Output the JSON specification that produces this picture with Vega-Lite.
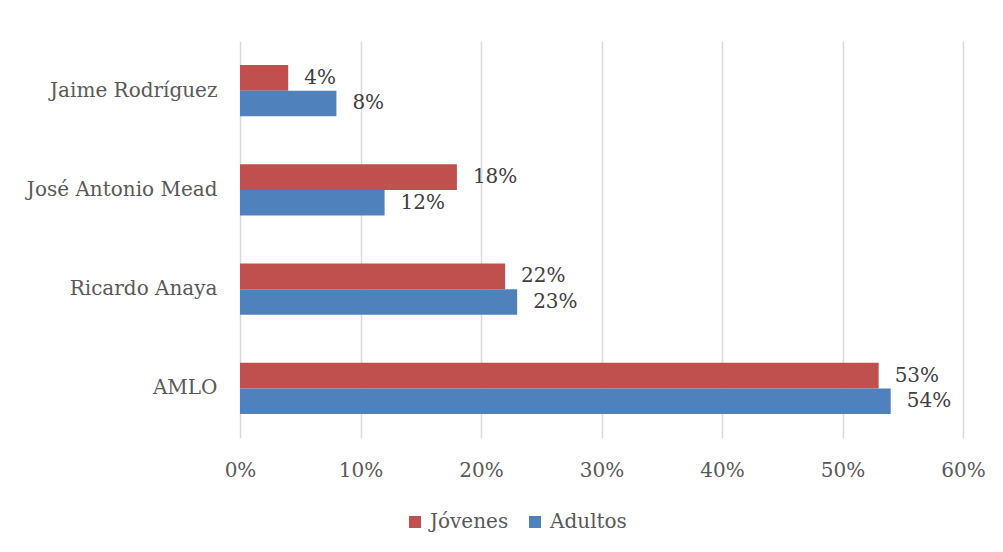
{
  "$schema": "https://vega.github.io/schema/vega-lite/v6.json",
  "width": 723,
  "height": 397,
  "autosize": {"type": "none"},
  "padding": {"left": 240, "top": 41, "right": 40, "bottom": 114},
  "background": "white",
  "config": {
    "view": {"stroke": null},
    "font": "DejaVu Serif"
  },
  "data": {
    "values": [
      {"candidato": "Jaime Rodríguez", "grupo": "Jóvenes", "valor": 0.04},
      {"candidato": "Jaime Rodríguez", "grupo": "Adultos", "valor": 0.08},
      {"candidato": "José Antonio Mead", "grupo": "Jóvenes", "valor": 0.18},
      {"candidato": "José Antonio Mead", "grupo": "Adultos", "valor": 0.12},
      {"candidato": "Ricardo Anaya", "grupo": "Jóvenes", "valor": 0.22},
      {"candidato": "Ricardo Anaya", "grupo": "Adultos", "valor": 0.23},
      {"candidato": "AMLO", "grupo": "Jóvenes", "valor": 0.53},
      {"candidato": "AMLO", "grupo": "Adultos", "valor": 0.54}
    ]
  },
  "encoding": {
    "y": {
      "field": "candidato",
      "type": "nominal",
      "sort": ["Jaime Rodríguez", "José Antonio Mead", "Ricardo Anaya", "AMLO"],
      "scale": {"paddingInner": 0.486, "paddingOuter": 0.243},
      "axis": {
        "title": null,
        "domain": false,
        "ticks": false,
        "labelFont": "DejaVu Serif",
        "labelFontSize": 20,
        "labelColor": "#595959",
        "labelPadding": 23,
        "labelLimit": 300
      }
    },
    "yOffset": {
      "field": "grupo",
      "type": "nominal",
      "sort": ["Jóvenes", "Adultos"]
    },
    "x": {
      "field": "valor",
      "type": "quantitative",
      "scale": {"domain": [0, 0.6], "nice": false},
      "axis": {
        "title": null,
        "format": ".0%",
        "values": [0, 0.1, 0.2, 0.3, 0.4, 0.5, 0.6],
        "domain": false,
        "ticks": false,
        "grid": true,
        "gridColor": "#D9D9D9",
        "gridWidth": 1.5,
        "labelFont": "DejaVu Serif",
        "labelFontSize": 20,
        "labelColor": "#595959",
        "labelPadding": 22,
        "labelFlush": false,
        "labelOverlap": false
      }
    }
  },
  "layer": [
    {
      "mark": {"type": "bar"},
      "encoding": {
        "color": {
          "field": "grupo",
          "type": "nominal",
          "sort": ["Jóvenes", "Adultos"],
          "scale": {"domain": ["Jóvenes", "Adultos"], "range": ["#C0504D", "#4F81BD"]},
          "legend": {
            "title": null,
            "orient": "none",
            "direction": "horizontal",
            "legendX": 165,
            "legendY": 471,
            "symbolType": "square",
            "symbolSize": 144,
            "symbolStrokeWidth": 0,
            "symbolOpacity": 1,
            "labelFont": "DejaVu Serif",
            "labelFontSize": 20,
            "labelColor": "#595959",
            "labelOffset": 5,
            "columnPadding": 16
          }
        }
      }
    },
    {
      "mark": {"type": "text", "align": "left", "baseline": "middle", "dx": 16, "font": "DejaVu Serif", "fontSize": 20, "color": "#404040"},
      "encoding": {
        "text": {"field": "valor", "type": "quantitative", "format": ".0%"}
      }
    }
  ]
}
